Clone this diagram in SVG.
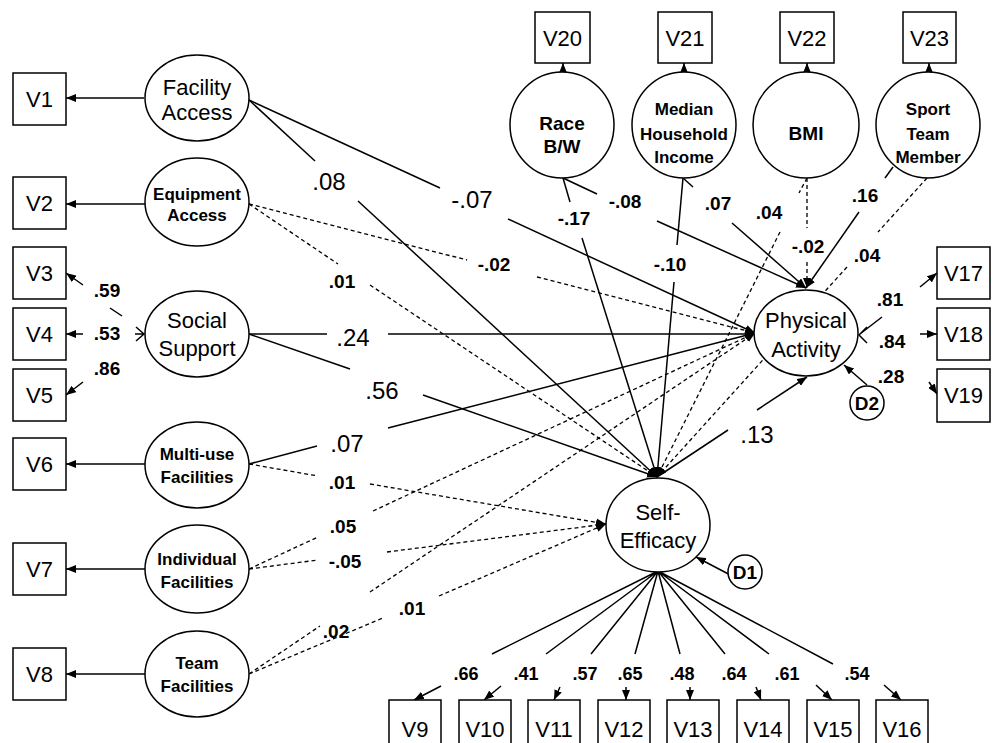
<svg xmlns="http://www.w3.org/2000/svg" width="995" height="743" viewBox="0 0 995 743">
<style>
text{font-family:"Liberation Sans",Arial,sans-serif;fill:#000;text-anchor:middle}
.n{font-size:22px}
.b{font-size:17px;font-weight:bold}
.b19{font-size:19px;font-weight:bold}
.big{font-size:24px}
.sm{font-size:19px;font-weight:bold}
.bt{font-size:18px;font-weight:bold}
.box{fill:#fff;stroke:#000;stroke-width:1.5}
.ell{fill:#fff;stroke:#000;stroke-width:1.5}
.s{fill:none;stroke:#000;stroke-width:1.5}
.d{fill:none;stroke:#000;stroke-width:1.3;stroke-dasharray:4 3}
.a{marker-end:url(#ah)}
</style>
<defs>
<marker id="ah" viewBox="0 0 10 8" refX="10" refY="4" markerWidth="10" markerHeight="8" markerUnits="userSpaceOnUse" orient="auto"><path d="M0,0 L10,4 L0,8 z" fill="#000" stroke="none"/></marker>
</defs>
<g id="connectors">
<path class="s" d="M249,100 L440,188"/><path class="s a" d="M508,219 L755,333"/>
<path class="s" d="M249,100 L315,161"/><path class="s a" d="M358,201 L657,477"/>
<path class="d" d="M249,204 L467,260"/><path class="d a" d="M537,277 L755,333"/>
<path class="d" d="M249,204 L338,264"/><path class="d a" d="M370,285 L657,477"/>
<path class="s" d="M249,334 L327,334"/><path class="s a" d="M388,334 L755,334"/>
<path class="s" d="M249,334 L350,369"/><path class="s a" d="M423,395 L657,477"/>
<path class="s" d="M249,464 L317,446"/><path class="s a" d="M388,428 L755,333"/>
<path class="d" d="M249,464 L318,476"/><path class="d a" d="M370,484 L606,524"/>
<path class="d" d="M249,569 L318,537"/><path class="d a" d="M373,511 L755,333"/>
<path class="d" d="M249,569 L318,560"/><path class="d a" d="M387,552 L606,524"/>
<path class="d" d="M249,674 L320,626"/><path class="d a" d="M370,592 L755,333"/>
<path class="d" d="M249,674 L383,618"/><path class="d a" d="M439,596 L606,524"/>
<path class="s" d="M657,477 L728,430"/><path class="s a" d="M757,410 L807,377"/>
<path class="s" d="M563,178 L597,194"/><path class="s a" d="M657,221 L806,288"/>
<path class="s" d="M563,178 L570,202"/><path class="s a" d="M582,238 L657,477"/>
<path class="s" d="M683,178 L693,187"/><path class="s a" d="M732,223 L806,288"/>
<path class="s" d="M683,178 L677,245"/><path class="s a" d="M674,282 L657,477"/>
<path class="d" d="M807,178 L807,228"/><path class="d a" d="M807,262 L807,288"/>
<path class="d" d="M807,178 L799,193"/><path class="d a" d="M780,232 L657,477"/>
<path class="s" d="M893,167 L885,178"/><path class="s a" d="M859,212 L806,288"/>
<path class="d" d="M927,178 L878,232"/><path class="d a" d="M847,267 L657,477"/>
<path class="s a" d="M144,98 L66,98"/>
<path class="s a" d="M145,204 L66,204"/>
<path class="s a" d="M83,285 L66,273"/><path class="s" d="M110,308 L122,316"/>
<path class="s a" d="M83,334 L66,334"/>
<path class="s a" d="M83,382 L66,395"/>
<path class="s" d="M135,334 L144,334 M136,327 L144,334 L136,341"/>
<path class="s a" d="M145,464 L66,464"/>
<path class="s a" d="M145,569 L66,569"/>
<path class="s a" d="M145,674 L66,674"/>
<path class="s a" d="M563,72 L563,63"/>
<path class="s a" d="M684,72 L684,63"/>
<path class="s a" d="M807,72 L807,63"/>
<path class="s a" d="M929,72 L929,63"/>
<path class="s a" d="M920,287 L937,273"/>
<path class="s a" d="M920,334 L937,334"/>
<path class="s a" d="M929,382 L937,394"/>
<path class="s" d="M882,317 L860,334 M867,327 L859,335 L867,343"/>
<path class="s a" d="M867,385 L844,365"/>
<path class="s a" d="M736,578 L696,557"/>
<path class="s" d="M658,571 L492,654 M658,571 L546,654 M658,571 L591,654 M658,571 L635,654 M658,571 L680,654 M658,571 L725,654 M658,571 L769,654 M658,571 L833,664"/>
<path class="s a" d="M441,686 L414,700"/>
<path class="s a" d="M501,686 L484,700"/>
<path class="s a" d="M560,687 L554,700"/>
<path class="s a" d="M626,687 L626,700"/>
<path class="s a" d="M690,687 L690,700"/>
<path class="s a" d="M756,687 L761,700"/>
<path class="s a" d="M816,685 L832,700"/>
<path class="s a" d="M884,685 L901,700"/>
</g>
<g id="coefficients">
<text class="big" x="329" y="190">.08</text>
<text class="big" x="472" y="208">-.07</text>
<text class="sm" x="494" y="271">-.02</text>
<text class="sm" x="342" y="288">.01</text>
<text class="big" x="353" y="346">.24</text>
<text class="big" x="382" y="399">.56</text>
<text class="big" x="347" y="452">.07</text>
<text class="sm" x="342" y="489">.01</text>
<text class="sm" x="343" y="533">.05</text>
<text class="sm" x="345" y="568">-.05</text>
<text class="sm" x="336" y="638">.02</text>
<text class="sm" x="412" y="615">.01</text>
<text class="big" x="757" y="443">.13</text>
<text class="sm" x="574" y="225">-.17</text>
<text class="sm" x="625" y="208">-.08</text>
<text class="sm" x="670" y="271">-.10</text>
<text class="sm" x="718" y="210">.07</text>
<text class="sm" x="769" y="219">.04</text>
<text class="sm" x="808" y="253">-.02</text>
<text class="sm" x="865" y="202">.16</text>
<text class="sm" x="867" y="262">.04</text>
<text class="sm" x="107" y="297">.59</text>
<text class="sm" x="107" y="340">.53</text>
<text class="sm" x="107" y="375">.86</text>
<text class="sm" x="890" y="306">.81</text>
<text class="sm" x="892" y="348">.84</text>
<text class="sm" x="891" y="383">.28</text>
<text class="bt" x="466" y="680">.66</text>
<text class="bt" x="526" y="680">.41</text>
<text class="bt" x="585" y="680">.57</text>
<text class="bt" x="630" y="680">.65</text>
<text class="bt" x="682" y="680">.48</text>
<text class="bt" x="734" y="680">.64</text>
<text class="bt" x="787" y="680">.61</text>
<text class="bt" x="857" y="680">.54</text>
</g>
<g id="FacilityAccess"><ellipse class="ell" cx="197" cy="98" rx="52" ry="43"/><text class="n" x="197" y="95">Facility</text><text class="n" x="197" y="120">Access</text></g>
<g id="EquipmentAccess"><ellipse class="ell" cx="197" cy="202" rx="52" ry="44"/><text class="b" x="197" y="200">Equipment</text><text class="b" x="197" y="221">Access</text></g>
<g id="SocialSupport"><ellipse class="ell" cx="197" cy="334" rx="52" ry="43"/><text class="n" x="197" y="328">Social</text><text class="n" x="197" y="356">Support</text></g>
<g id="MultiUse"><ellipse class="ell" cx="197" cy="465" rx="52" ry="43"/><text class="b" x="197" y="460">Multi-use</text><text class="b" x="197" y="483">Facilities</text></g>
<g id="IndividualFacilities"><ellipse class="ell" cx="197" cy="569" rx="52" ry="44"/><text class="b" x="197" y="565">Individual</text><text class="b" x="197" y="588">Facilities</text></g>
<g id="TeamFacilities"><ellipse class="ell" cx="197" cy="674" rx="52" ry="43"/><text class="b" x="197" y="669">Team</text><text class="b" x="197" y="692">Facilities</text></g>
<g id="Race"><ellipse class="ell" cx="562" cy="125" rx="52" ry="53"/><text class="b19" x="562" y="130">Race</text><text class="b19" x="562" y="153">B/W</text></g>
<g id="Income"><ellipse class="ell" cx="684" cy="125" rx="52" ry="53"/><text class="b" x="684" y="115">Median</text><text class="b" x="684" y="140">Household</text><text class="b" x="684" y="163">Income</text></g>
<g id="BMI"><ellipse class="ell" cx="806" cy="125" rx="53" ry="53"/><text class="b19" x="806" y="140">BMI</text></g>
<g id="SportTeam"><ellipse class="ell" cx="928" cy="125" rx="52" ry="53"/><text class="b" x="928" y="115">Sport</text><text class="b" x="928" y="140">Team</text><text class="b" x="928" y="163">Member</text></g>
<g id="PhysicalActivity"><ellipse class="ell" cx="806" cy="333" rx="52" ry="43"/><text class="n" x="806" y="328">Physical</text><text class="n" x="806" y="357">Activity</text></g>
<g id="SelfEfficacy"><ellipse class="ell" cx="658" cy="525" rx="52" ry="47"/><text class="n" x="658" y="520">Self-</text><text class="n" x="658" y="548">Efficacy</text></g>
<g id="D1"><circle class="ell" cx="745" cy="572" r="17"/><text class="b19" x="745" y="579">D1</text></g>
<g id="D2"><circle class="ell" cx="867" cy="403" r="17"/><text class="b19" x="867" y="410">D2</text></g>
<g id="V1"><rect class="box" x="13" y="73" width="53" height="52"/><text class="n" x="39.5" y="107">V1</text></g>
<g id="V2"><rect class="box" x="13" y="177" width="53" height="52"/><text class="n" x="39.5" y="211">V2</text></g>
<g id="V3"><rect class="box" x="13" y="247" width="53" height="52"/><text class="n" x="39.5" y="281">V3</text></g>
<g id="V4"><rect class="box" x="13" y="308" width="53" height="52"/><text class="n" x="39.5" y="342">V4</text></g>
<g id="V5"><rect class="box" x="13" y="369" width="53" height="52"/><text class="n" x="39.5" y="403">V5</text></g>
<g id="V6"><rect class="box" x="13" y="438" width="53" height="52"/><text class="n" x="39.5" y="472">V6</text></g>
<g id="V7"><rect class="box" x="13" y="543" width="53" height="52"/><text class="n" x="39.5" y="577">V7</text></g>
<g id="V8"><rect class="box" x="13" y="648" width="53" height="52"/><text class="n" x="39.5" y="682">V8</text></g>
<g id="V20"><rect class="box" x="535" y="12" width="55" height="51"/><text class="n" x="562.5" y="46">V20</text></g>
<g id="V21"><rect class="box" x="658" y="12" width="54" height="51"/><text class="n" x="685" y="46">V21</text></g>
<g id="V22"><rect class="box" x="780" y="12" width="54" height="51"/><text class="n" x="807" y="46">V22</text></g>
<g id="V23"><rect class="box" x="903" y="12" width="53" height="51"/><text class="n" x="929.5" y="46">V23</text></g>
<g id="V17"><rect class="box" x="937" y="247" width="53" height="52"/><text class="n" x="963.5" y="281">V17</text></g>
<g id="V18"><rect class="box" x="937" y="308" width="53" height="52"/><text class="n" x="963.5" y="342">V18</text></g>
<g id="V19"><rect class="box" x="937" y="369" width="53" height="53"/><text class="n" x="963.5" y="403">V19</text></g>
<g id="V9"><rect class="box" x="389" y="700" width="52" height="50"/><text class="n" x="415" y="737">V9</text></g>
<g id="V10"><rect class="box" x="459" y="700" width="52" height="50"/><text class="n" x="485" y="737">V10</text></g>
<g id="V11"><rect class="box" x="528" y="700" width="52" height="50"/><text class="n" x="554" y="737">V11</text></g>
<g id="V12"><rect class="box" x="598" y="700" width="52" height="50"/><text class="n" x="624" y="737">V12</text></g>
<g id="V13"><rect class="box" x="667" y="700" width="52" height="50"/><text class="n" x="693" y="737">V13</text></g>
<g id="V14"><rect class="box" x="737" y="700" width="52" height="50"/><text class="n" x="763" y="737">V14</text></g>
<g id="V15"><rect class="box" x="807" y="700" width="52" height="50"/><text class="n" x="833" y="737">V15</text></g>
<g id="V16"><rect class="box" x="876" y="700" width="52" height="50"/><text class="n" x="902" y="737">V16</text></g>
</svg>
